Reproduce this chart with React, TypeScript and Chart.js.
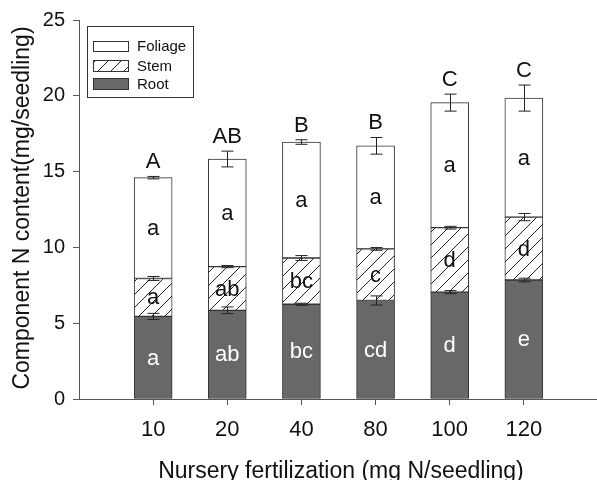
import { useEffect, useRef } from 'react';
import { Chart, registerables } from 'chart.js';
Chart.register(...registerables);

const categories = ['10', '20', '40', '80', '100', '120'];
const rootValues = [5.45, 5.85, 6.25, 6.5, 7.05, 7.85];
const stemValues = [2.5, 2.88, 3.05, 3.4, 4.25, 4.15];
const foliageValues = [6.65, 7.1, 7.65, 6.8, 8.25, 7.85];
const rootErr = [0.2, 0.22, 0.07, 0.3, 0.1, 0.12];
const stemErr = [0.13, 0.07, 0.16, 0.09, 0.09, 0.24];
const foliageErr = [0.08, 0.52, 0.15, 0.55, 0.56, 0.86];
const rootLetters = ['a', 'ab', 'bc', 'cd', 'd', 'e'];
const stemLetters = ['a', 'ab', 'bc', 'c', 'd', 'd'];
const foliageLetters = ['a', 'a', 'a', 'a', 'a', 'a'];
const totalLetters = ['A', 'AB', 'B', 'B', 'C', 'C'];
const seriesNames = ['Root', 'Stem', 'Foliage'];
const yTitle = 'Component N content(mg/seedling)';
const xTitle = 'Nursery fertilization (mg N/seedling)';

const FAMILY = '"Liberation Sans", Arial, sans-serif';
const ROOT_FILL = '#686868';
const EDGE = '#333333';
const AXIS = '#555555';

function makeHatch(ctx: CanvasRenderingContext2D): CanvasPattern {
  const s = 13;
  const c = document.createElement('canvas');
  c.width = s;
  c.height = s;
  const g = c.getContext('2d')!;
  g.fillStyle = '#ffffff';
  g.fillRect(0, 0, s, s);
  g.strokeStyle = '#222222';
  g.lineWidth = 1;
  g.beginPath();
  g.moveTo(-1, s + 1);
  g.lineTo(s + 1, -1);
  g.moveTo(-2, 2);
  g.lineTo(2, -2);
  g.moveTo(s - 2, s + 2);
  g.lineTo(s + 2, s - 2);
  g.stroke();
  return ctx.createPattern(c, 'repeat')!;
}

export default function App() {
  const ref = useRef<HTMLCanvasElement>(null);
  useEffect(() => {
    const canvas = ref.current!;
    const ctx = canvas.getContext('2d')!;
    const hatch = makeHatch(ctx);
    const labels = ['', ...categories, ''];
    const pad = (a: number[]) => [null, ...a, null];
    const errs = [rootErr, stemErr, foliageErr];
    const letters = [rootLetters, stemLetters, foliageLetters];

    const annot = {
      id: 'annot',
      afterDatasetsDraw(chart: any) {
        const c = chart.ctx as CanvasRenderingContext2D;
        const ys = chart.scales.y;
        const px = (v: number) => ys.getPixelForValue(0) - ys.getPixelForValue(v);
        c.save();
        // letters inside segments
        c.font = `22px ${FAMILY}`;
        c.textAlign = 'center';
        c.textBaseline = 'middle';
        for (let d = 0; d < 3; d++) {
          const meta = chart.getDatasetMeta(d);
          for (let j = 0; j < categories.length; j++) {
            const bar = meta.data[j + 1];
            const cy = (bar.y + bar.base) / 2 + 1;
            c.fillStyle = d === 0 ? '#ffffff' : '#111111';
            c.fillText(letters[d][j], bar.x, cy);
          }
        }
        // error bars
        c.strokeStyle = '#222222';
        c.lineWidth = 1;
        for (let d = 0; d < 3; d++) {
          const meta = chart.getDatasetMeta(d);
          for (let j = 0; j < categories.length; j++) {
            const bar = meta.data[j + 1];
            const e = px(errs[d][j]);
            const x = Math.round(bar.x) + 0.5;
            const t = bar.y - e;
            const b = bar.y + e;
            c.beginPath();
            c.moveTo(x, t);
            c.lineTo(x, b);
            c.moveTo(x - 6, t);
            c.lineTo(x + 6, t);
            c.moveTo(x - 6, b);
            c.lineTo(x + 6, b);
            c.stroke();
          }
        }
        // top letters
        const fmeta = chart.getDatasetMeta(2);
        c.fillStyle = '#111111';
        c.textBaseline = 'alphabetic';
        c.font = `22px ${FAMILY}`;
        for (let j = 0; j < categories.length; j++) {
          const bar = fmeta.data[j + 1];
          const top = bar.y - px(foliageErr[j]);
          c.fillText(totalLetters[j], bar.x, top - 8);
        }
        c.restore();
      },
      afterDraw(chart: any) {
        const c = chart.ctx as CanvasRenderingContext2D;
        c.save();
        // legend
        c.strokeStyle = EDGE;
        c.lineWidth = 1;
        c.fillStyle = '#ffffff';
        c.fillRect(87.5, 26.5, 106, 71);
        c.strokeRect(87.5, 26.5, 106, 71);
        const items = [
          { name: seriesNames[2], fill: '#ffffff' as any, y: 41.5, h: 10 },
          { name: seriesNames[1], fill: hatch as any, y: 60.5, h: 11 },
          { name: seriesNames[0], fill: ROOT_FILL as any, y: 78.5, h: 11 },
        ];
        c.font = `15px ${FAMILY}`;
        c.textAlign = 'left';
        c.textBaseline = 'middle';
        for (const it of items) {
          c.fillStyle = it.fill;
          c.fillRect(93.5, it.y, 35, it.h);
          c.strokeStyle = EDGE;
          c.strokeRect(93.5, it.y, 35, it.h);
          c.fillStyle = '#111111';
          c.fillText(it.name, 137, it.y + it.h / 2 + 0.5);
        }
        // titles
        c.fillStyle = '#111111';
        c.font = `23px ${FAMILY}`;
        c.textAlign = 'center';
        c.textBaseline = 'alphabetic';
        c.fillText(xTitle, 341, 478);
        c.translate(29, 208);
        c.rotate(-Math.PI / 2);
        c.fillText(yTitle, 0, 0);
        c.restore();
      },
    };

    const common = { borderColor: EDGE, borderWidth: 1, borderSkipped: false as const, barThickness: 38 };
    const chart = new Chart(canvas, {
      type: 'bar',
      data: {
        labels,
        datasets: [
          { label: seriesNames[0], data: pad(rootValues), backgroundColor: ROOT_FILL, ...common },
          { label: seriesNames[1], data: pad(stemValues), backgroundColor: hatch as any, ...common },
          { label: seriesNames[2], data: pad(foliageValues), backgroundColor: '#ffffff', ...common },
        ] as any,
      },
      options: {
        responsive: false,
        animation: false,
        layout: { padding: { left: 0, top: 20, right: 6, bottom: 0 } },
        plugins: { legend: { display: false }, tooltip: { enabled: false } },
        scales: {
          x: {
            stacked: true,
            offset: false,
            grid: {
              offset: false,
              drawOnChartArea: false,
              drawTicks: true,
              tickLength: 6,
              color: (c: any) => (c.index === 0 || c.index === labels.length - 1 ? 'rgba(0,0,0,0)' : AXIS),
            },
            border: { display: true, color: AXIS, width: 1 },
            ticks: { font: { family: FAMILY, size: 22 }, color: '#111111', padding: 12, autoSkip: false, maxRotation: 0 },
            afterFit: (s: any) => {
              s.height = 81;
            },
          },
          y: {
            stacked: true,
            min: 0,
            max: 25,
            ticks: { stepSize: 5, font: { family: FAMILY, size: 20 }, color: '#111111', padding: 8 },
            grid: { drawOnChartArea: false, tickLength: 6, color: AXIS },
            border: { display: true, color: AXIS, width: 1 },
            afterFit: (s: any) => {
              s.width = 79;
            },
          },
        } as any,
      },
      plugins: [annot],
    });
    return () => chart.destroy();
  }, []);
  return (
    <div style={{ position: 'fixed', left: 0, top: 0, width: 610, height: 480, background: '#ffffff' }}>
      <canvas ref={ref} width={610} height={480} style={{ display: 'block' }} />
    </div>
  );
}
